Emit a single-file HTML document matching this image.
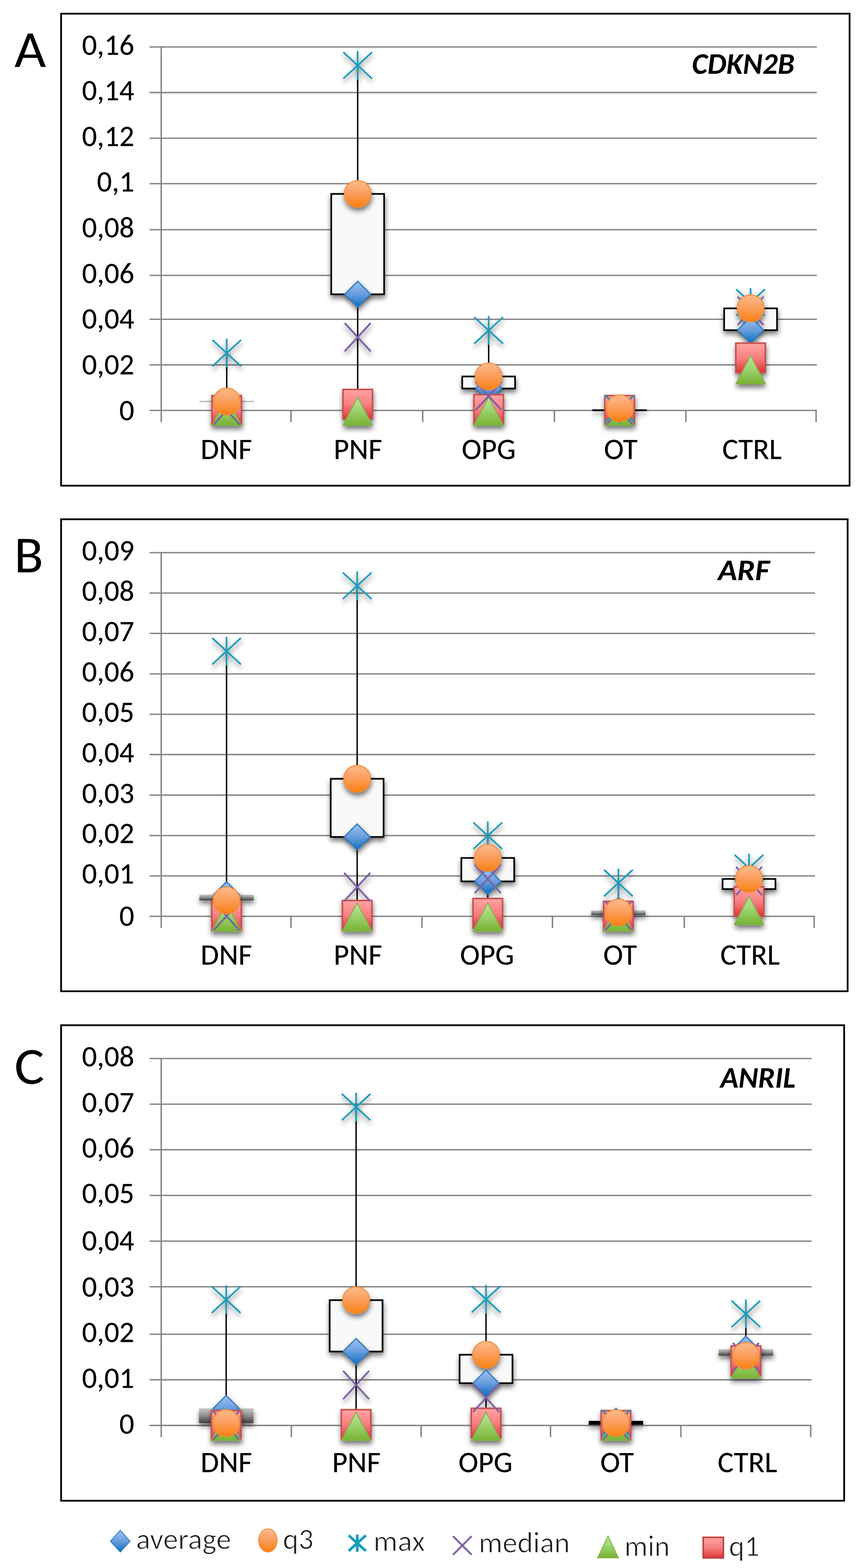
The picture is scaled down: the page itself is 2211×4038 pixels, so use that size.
<!DOCTYPE html>
<html><head><meta charset="utf-8"><title>Boxplots CDKN2B ARF ANRIL</title>
<style>html,body{margin:0;padding:0;background:#fff;}body{width:2211px;height:4038px;overflow:hidden;}svg{display:block;}text{font-family:Carlito, 'Liberation Sans', sans-serif;}text.lb{stroke:#000;stroke-width:0.25px;}text.lg{stroke:#fff;stroke-width:1.6px;}</style>
</head><body>
<svg width="2211" height="4038" viewBox="0 0 2211 4038">
<defs>
<linearGradient id="gDia" x1="0" y1="0" x2="0" y2="1"><stop offset="0" stop-color="#9CC3F7"/><stop offset="0.5" stop-color="#6A9DDD"/><stop offset="1" stop-color="#0B6EC0"/></linearGradient>
<linearGradient id="gCirc" x1="0" y1="0" x2="0" y2="1"><stop offset="0" stop-color="#FDBB8B"/><stop offset="0.45" stop-color="#FBA062"/><stop offset="1" stop-color="#F9800F"/></linearGradient>
<linearGradient id="gSq" x1="0" y1="0" x2="0" y2="1"><stop offset="0" stop-color="#FFA3A3"/><stop offset="0.5" stop-color="#F98080"/><stop offset="1" stop-color="#DB3535"/></linearGradient>
<linearGradient id="gTri" x1="0" y1="0" x2="0" y2="1"><stop offset="0" stop-color="#BDE79D"/><stop offset="0.5" stop-color="#9BD06A"/><stop offset="1" stop-color="#76B332"/></linearGradient>
<linearGradient id="gDown" x1="0" y1="0" x2="0" y2="1"><stop offset="0" stop-color="#C6C6C6"/><stop offset="0.5" stop-color="#8E8E8E"/><stop offset="1" stop-color="#3E3E3E"/></linearGradient>
<filter id="sh" x="-40%" y="-40%" width="180%" height="200%"><feGaussianBlur in="SourceAlpha" stdDeviation="7"/><feOffset dx="1" dy="8" result="b"/><feComponentTransfer><feFuncA type="linear" slope="0.55"/></feComponentTransfer><feMerge><feMergeNode/><feMergeNode in="SourceGraphic"/></feMerge></filter>
<filter id="shb" filterUnits="userSpaceOnUse" x="0" y="0" width="2211" height="4038"><feGaussianBlur in="SourceAlpha" stdDeviation="7"/><feOffset dx="1" dy="8" result="b"/><feComponentTransfer><feFuncA type="linear" slope="0.55"/></feComponentTransfer><feMerge><feMergeNode/><feMergeNode in="SourceGraphic"/></feMerge></filter>
</defs>
<rect x="0" y="0" width="2211" height="4038" fill="#fff"/>
<rect x="157.25" y="35.25" width="2029.5" height="1215.5" fill="none" stroke="#000" stroke-width="4.5"/>
<text transform="matrix(1.05 0 0 1 36.9 172)" font-size="134" textLength="77.54" lengthAdjust="spacingAndGlyphs" fill="#000">A</text>
<line x1="385" y1="1057" x2="2102.5" y2="1057" stroke="#868686" stroke-width="3.6"/>
<text class="lb" x="345.5" y="1081.5" font-size="76" text-anchor="end" textLength="38.53" lengthAdjust="spacingAndGlyphs" fill="#000">0</text>
<line x1="385" y1="939.6" x2="2102.5" y2="939.6" stroke="#868686" stroke-width="3.6"/>
<text class="lb" x="345.5" y="963.9" font-size="76" text-anchor="end" textLength="134.53" lengthAdjust="spacingAndGlyphs" fill="#000">0,02</text>
<line x1="385" y1="822.2" x2="2102.5" y2="822.2" stroke="#868686" stroke-width="3.6"/>
<text class="lb" x="345.5" y="846.4" font-size="76" text-anchor="end" textLength="134.53" lengthAdjust="spacingAndGlyphs" fill="#000">0,04</text>
<line x1="385" y1="709.3" x2="2102.5" y2="709.3" stroke="#868686" stroke-width="3.6"/>
<text class="lb" x="345.5" y="729" font-size="76" text-anchor="end" textLength="134.53" lengthAdjust="spacingAndGlyphs" fill="#000">0,06</text>
<line x1="385" y1="591.5" x2="2102.5" y2="591.5" stroke="#868686" stroke-width="3.6"/>
<text class="lb" x="345.5" y="611.2" font-size="76" text-anchor="end" textLength="134.53" lengthAdjust="spacingAndGlyphs" fill="#000">0,08</text>
<line x1="385" y1="473" x2="2102.5" y2="473" stroke="#868686" stroke-width="3.6"/>
<text class="lb" x="345.5" y="493.1" font-size="76" text-anchor="end" textLength="96.02" lengthAdjust="spacingAndGlyphs" fill="#000">0,1</text>
<line x1="385" y1="356" x2="2102.5" y2="356" stroke="#868686" stroke-width="3.6"/>
<text class="lb" x="345.5" y="376.1" font-size="76" text-anchor="end" textLength="134.53" lengthAdjust="spacingAndGlyphs" fill="#000">0,12</text>
<line x1="385" y1="238.4" x2="2102.5" y2="238.4" stroke="#868686" stroke-width="3.6"/>
<text class="lb" x="345.5" y="258.2" font-size="76" text-anchor="end" textLength="134.53" lengthAdjust="spacingAndGlyphs" fill="#000">0,14</text>
<line x1="385" y1="121" x2="2102.5" y2="121" stroke="#868686" stroke-width="3.6"/>
<text class="lb" x="345.5" y="140.8" font-size="76" text-anchor="end" textLength="134.53" lengthAdjust="spacingAndGlyphs" fill="#000">0,16</text>
<line x1="415" y1="119.2" x2="415" y2="1087" stroke="#868686" stroke-width="3.8"/>
<line x1="749" y1="1057" x2="749" y2="1087" stroke="#868686" stroke-width="3.8"/>
<line x1="1088" y1="1057" x2="1088" y2="1087" stroke="#868686" stroke-width="3.8"/>
<line x1="1427" y1="1057" x2="1427" y2="1087" stroke="#868686" stroke-width="3.8"/>
<line x1="1765.4" y1="1057" x2="1765.4" y2="1087" stroke="#868686" stroke-width="3.8"/>
<line x1="2100.6" y1="1057" x2="2100.6" y2="1087" stroke="#868686" stroke-width="3.8"/>
<text class="lb" x="582.6" y="1182" font-size="77" text-anchor="middle" textLength="132.47" lengthAdjust="spacingAndGlyphs" fill="#000">DNF</text>
<text class="lb" x="921.1" y="1182" font-size="77" text-anchor="middle" textLength="124.88" lengthAdjust="spacingAndGlyphs" fill="#000">PNF</text>
<text class="lb" x="1257.8" y="1182" font-size="77" text-anchor="middle" textLength="139.34" lengthAdjust="spacingAndGlyphs" fill="#000">OPG</text>
<text class="lb" x="1597.7" y="1182" font-size="77" text-anchor="middle" textLength="86.44" lengthAdjust="spacingAndGlyphs" fill="#000">OT</text>
<text class="lb" x="1935.6" y="1182" font-size="77" text-anchor="middle" textLength="153.14" lengthAdjust="spacingAndGlyphs" fill="#000">CTRL</text>
<text x="1781" y="190" font-size="77" font-weight="bold" font-style="italic" textLength="264" lengthAdjust="spacingAndGlyphs" fill="#000">CDKN2B</text>
<line x1="583.55" y1="909.33" x2="583.55" y2="1056.7" stroke="#000" stroke-width="3.6"/>
<rect x="513.55" y="1031.89" width="140" height="4" fill="#C4C4C4"/>
<g filter="url(#sh)">
<path d="M583.55 1000.98L617.05 1034.48L583.55 1067.98L550.05 1034.48Z" fill="url(#gDia)" stroke="#2C78BE" stroke-width="3"/>
<rect x="545.55" y="1018.7" width="76" height="76" fill="url(#gSq)" stroke="#C9504E" stroke-width="4"/>
<path d="M583.55 1022.7L621.55 1095.7L545.55 1095.7Z" fill="url(#gTri)" stroke="#86AF53" stroke-width="2.5" stroke-linejoin="round"/>
<path d="M550.05 1020.2L617.05 1093.2M617.05 1020.2L550.05 1093.2" stroke="#7E5EA6" stroke-width="4.5" fill="none"/>
<path d="M546.55 875.29L620.55 943.37M620.55 875.29L546.55 943.37M583.55 872.33L583.55 946.33" stroke="#189DBB" stroke-width="4.2" fill="none"/>
<circle cx="583.55" cy="1033.89" r="34.5" fill="url(#gCirc)" stroke="#F48B36" stroke-width="2.5"/>
</g>
<line x1="920.65" y1="168.39" x2="920.65" y2="1056.7" stroke="#000" stroke-width="3.6"/>
<rect x="852.65" y="499.39" width="136" height="258.48" fill="#F9F9F9" stroke="#000" stroke-width="4.2" filter="url(#shb)"/>
<g filter="url(#sh)">
<path d="M920.65 724.37L954.15 757.87L920.65 791.37L887.15 757.87Z" fill="url(#gDia)" stroke="#2C78BE" stroke-width="3"/>
<rect x="882.65" y="1002.91" width="76" height="76" fill="url(#gSq)" stroke="#C9504E" stroke-width="4"/>
<path d="M920.65 1022.7L958.65 1095.7L882.65 1095.7Z" fill="url(#gTri)" stroke="#86AF53" stroke-width="2.5" stroke-linejoin="round"/>
<path d="M887.15 831.89L954.15 904.89M954.15 831.89L887.15 904.89" stroke="#7E5EA6" stroke-width="4.5" fill="none"/>
<path d="M883.65 134.35L957.65 202.43M957.65 134.35L883.65 202.43M920.65 131.39L920.65 205.39" stroke="#189DBB" stroke-width="4.2" fill="none"/>
<circle cx="920.65" cy="499.39" r="34.5" fill="url(#gCirc)" stroke="#F48B36" stroke-width="2.5"/>
</g>
<line x1="1257.75" y1="850.85" x2="1257.75" y2="1056.7" stroke="#000" stroke-width="3.6"/>
<rect x="1189.75" y="969.56" width="136" height="30.99" fill="#F9F9F9" stroke="#000" stroke-width="4.2" filter="url(#shb)"/>
<g filter="url(#sh)">
<path d="M1257.75 967.06L1291.25 1000.56L1257.75 1034.06L1224.25 1000.56Z" fill="url(#gDia)" stroke="#2C78BE" stroke-width="3"/>
<rect x="1219.75" y="1016.36" width="76" height="76" fill="url(#gSq)" stroke="#C9504E" stroke-width="4"/>
<path d="M1257.75 1022.7L1295.75 1095.7L1219.75 1095.7Z" fill="url(#gTri)" stroke="#86AF53" stroke-width="2.5" stroke-linejoin="round"/>
<path d="M1224.25 983.36L1291.25 1056.36M1291.25 983.36L1224.25 1056.36" stroke="#7E5EA6" stroke-width="4.5" fill="none"/>
<path d="M1220.75 816.81L1294.75 884.89M1294.75 816.81L1220.75 884.89M1257.75 813.85L1257.75 887.85" stroke="#189DBB" stroke-width="4.2" fill="none"/>
<circle cx="1257.75" cy="969.56" r="34.5" fill="url(#gCirc)" stroke="#F48B36" stroke-width="2.5"/>
</g>
<line x1="1594.85" y1="1051.44" x2="1594.85" y2="1056.7" stroke="#000" stroke-width="3.6"/>
<rect x="1524.85" y="1054.2" width="140" height="4.5" fill="#000" filter="url(#shb)"/>
<g filter="url(#sh)">
<path d="M1594.85 1023.2L1628.35 1056.7L1594.85 1090.2L1561.35 1056.7Z" fill="url(#gDia)" stroke="#2C78BE" stroke-width="3"/>
<rect x="1556.85" y="1018.7" width="76" height="76" fill="url(#gSq)" stroke="#C9504E" stroke-width="4"/>
<path d="M1594.85 1022.7L1632.85 1095.7L1556.85 1095.7Z" fill="url(#gTri)" stroke="#86AF53" stroke-width="2.5" stroke-linejoin="round"/>
<path d="M1561.35 1020.2L1628.35 1093.2M1628.35 1020.2L1561.35 1093.2" stroke="#7E5EA6" stroke-width="4.5" fill="none"/>
<path d="M1557.85 1018.57L1631.85 1086.65M1631.85 1018.57L1557.85 1086.65M1594.85 1015.61L1594.85 1089.61" stroke="#189DBB" stroke-width="4.2" fill="none"/>
<circle cx="1594.85" cy="1051.44" r="34.5" fill="url(#gCirc)" stroke="#F48B36" stroke-width="2.5"/>
</g>
<line x1="1931.95" y1="778.92" x2="1931.95" y2="949.68" stroke="#000" stroke-width="3.6"/>
<rect x="1863.95" y="794.12" width="136" height="56.14" fill="#F9F9F9" stroke="#000" stroke-width="4.2" filter="url(#shb)"/>
<g filter="url(#sh)">
<path d="M1931.95 816.77L1965.45 850.27L1931.95 883.77L1898.45 850.27Z" fill="url(#gDia)" stroke="#2C78BE" stroke-width="3"/>
<rect x="1893.95" y="883.61" width="76" height="76" fill="url(#gSq)" stroke="#C9504E" stroke-width="4"/>
<path d="M1931.95 915.68L1969.95 988.68L1893.95 988.68Z" fill="url(#gTri)" stroke="#86AF53" stroke-width="2.5" stroke-linejoin="round"/>
<path d="M1898.45 764.06L1965.45 837.06M1965.45 764.06L1898.45 837.06" stroke="#7E5EA6" stroke-width="4.5" fill="none"/>
<path d="M1894.95 744.88L1968.95 812.96M1968.95 744.88L1894.95 812.96M1931.95 741.92L1931.95 815.92" stroke="#189DBB" stroke-width="4.2" fill="none"/>
<circle cx="1931.95" cy="794.12" r="34.5" fill="url(#gCirc)" stroke="#F48B36" stroke-width="2.5"/>
</g>
<rect x="157.25" y="1337.25" width="2024.5" height="1215.5" fill="none" stroke="#000" stroke-width="4.5"/>
<text transform="matrix(1.03 0 0 1 36.6 1474)" font-size="134" textLength="72.9" lengthAdjust="spacingAndGlyphs" fill="#000">B</text>
<line x1="385" y1="2359.8" x2="2098" y2="2359.8" stroke="#868686" stroke-width="3.6"/>
<text class="lb" x="345.5" y="2384.2" font-size="76" text-anchor="end" textLength="38.53" lengthAdjust="spacingAndGlyphs" fill="#000">0</text>
<line x1="385" y1="2255.7" x2="2098" y2="2255.7" stroke="#868686" stroke-width="3.6"/>
<text class="lb" x="345.5" y="2275.3" font-size="76" text-anchor="end" textLength="134.53" lengthAdjust="spacingAndGlyphs" fill="#000">0,01</text>
<line x1="385" y1="2151.7" x2="2098" y2="2151.7" stroke="#868686" stroke-width="3.6"/>
<text class="lb" x="345.5" y="2171.4" font-size="76" text-anchor="end" textLength="134.53" lengthAdjust="spacingAndGlyphs" fill="#000">0,02</text>
<line x1="385" y1="2047.6" x2="2098" y2="2047.6" stroke="#868686" stroke-width="3.6"/>
<text class="lb" x="345.5" y="2067.5" font-size="76" text-anchor="end" textLength="134.53" lengthAdjust="spacingAndGlyphs" fill="#000">0,03</text>
<line x1="385" y1="1943.1" x2="2098" y2="1943.1" stroke="#868686" stroke-width="3.6"/>
<text class="lb" x="345.5" y="1963.1" font-size="76" text-anchor="end" textLength="134.53" lengthAdjust="spacingAndGlyphs" fill="#000">0,04</text>
<line x1="385" y1="1839.5" x2="2098" y2="1839.5" stroke="#868686" stroke-width="3.6"/>
<text class="lb" x="345.5" y="1859.1" font-size="76" text-anchor="end" textLength="134.53" lengthAdjust="spacingAndGlyphs" fill="#000">0,05</text>
<line x1="385" y1="1735.5" x2="2098" y2="1735.5" stroke="#868686" stroke-width="3.6"/>
<text class="lb" x="345.5" y="1755.1" font-size="76" text-anchor="end" textLength="134.53" lengthAdjust="spacingAndGlyphs" fill="#000">0,06</text>
<line x1="385" y1="1631.2" x2="2098" y2="1631.2" stroke="#868686" stroke-width="3.6"/>
<text class="lb" x="345.5" y="1651.1" font-size="76" text-anchor="end" textLength="134.53" lengthAdjust="spacingAndGlyphs" fill="#000">0,07</text>
<line x1="385" y1="1527.2" x2="2098" y2="1527.2" stroke="#868686" stroke-width="3.6"/>
<text class="lb" x="345.5" y="1547.2" font-size="76" text-anchor="end" textLength="134.53" lengthAdjust="spacingAndGlyphs" fill="#000">0,08</text>
<line x1="385" y1="1423.3" x2="2098" y2="1423.3" stroke="#868686" stroke-width="3.6"/>
<text class="lb" x="345.5" y="1443.2" font-size="76" text-anchor="end" textLength="134.53" lengthAdjust="spacingAndGlyphs" fill="#000">0,09</text>
<line x1="415" y1="1421.5" x2="415" y2="2389.8" stroke="#868686" stroke-width="3.8"/>
<line x1="749" y1="2359.8" x2="749" y2="2389.8" stroke="#868686" stroke-width="3.8"/>
<line x1="1086" y1="2359.8" x2="1086" y2="2389.8" stroke="#868686" stroke-width="3.8"/>
<line x1="1422" y1="2359.8" x2="1422" y2="2389.8" stroke="#868686" stroke-width="3.8"/>
<line x1="1761.3" y1="2359.8" x2="1761.3" y2="2389.8" stroke="#868686" stroke-width="3.8"/>
<line x1="2095.5" y1="2359.8" x2="2095.5" y2="2389.8" stroke="#868686" stroke-width="3.8"/>
<text class="lb" x="582.6" y="2484" font-size="77" text-anchor="middle" textLength="132.47" lengthAdjust="spacingAndGlyphs" fill="#000">DNF</text>
<text class="lb" x="921.1" y="2484" font-size="77" text-anchor="middle" textLength="124.88" lengthAdjust="spacingAndGlyphs" fill="#000">PNF</text>
<text class="lb" x="1253.7" y="2484" font-size="77" text-anchor="middle" textLength="139.34" lengthAdjust="spacingAndGlyphs" fill="#000">OPG</text>
<text class="lb" x="1596" y="2484" font-size="77" text-anchor="middle" textLength="86.44" lengthAdjust="spacingAndGlyphs" fill="#000">OT</text>
<text class="lb" x="1930.6" y="2484" font-size="77" text-anchor="middle" textLength="153.14" lengthAdjust="spacingAndGlyphs" fill="#000">CTRL</text>
<text x="1848" y="1494" font-size="77" font-weight="bold" font-style="italic" textLength="133" lengthAdjust="spacingAndGlyphs" fill="#000">ARF</text>
<line x1="583.1" y1="1676.96" x2="583.1" y2="2359.2" stroke="#000" stroke-width="3.6"/>
<rect x="513.1" y="2304.08" width="140" height="14.56" fill="url(#gDown)" filter="url(#shb)"/>
<g filter="url(#sh)">
<path d="M583.1 2270.58L616.6 2304.08L583.1 2337.58L549.6 2304.08Z" fill="url(#gDia)" stroke="#2C78BE" stroke-width="3"/>
<rect x="545.1" y="2321.2" width="76" height="76" fill="url(#gSq)" stroke="#C9504E" stroke-width="4"/>
<path d="M583.1 2325.2L621.1 2398.2L545.1 2398.2Z" fill="url(#gTri)" stroke="#86AF53" stroke-width="2.5" stroke-linejoin="round"/>
<path d="M549.6 2322.7L616.6 2395.7M616.6 2322.7L549.6 2395.7" stroke="#7E5EA6" stroke-width="4.5" fill="none"/>
<path d="M546.1 1642.92L620.1 1711M620.1 1642.92L546.1 1711M583.1 1639.96L583.1 1713.96" stroke="#189DBB" stroke-width="4.2" fill="none"/>
<circle cx="583.1" cy="2318.64" r="34.5" fill="url(#gCirc)" stroke="#F48B36" stroke-width="2.5"/>
</g>
<line x1="919.3" y1="1508.48" x2="919.3" y2="2359.2" stroke="#000" stroke-width="3.6"/>
<rect x="851.3" y="2005.6" width="136" height="149.76" fill="#F9F9F9" stroke="#000" stroke-width="4.2" filter="url(#shb)"/>
<g filter="url(#sh)">
<path d="M919.3 2121.86L952.8 2155.36L919.3 2188.86L885.8 2155.36Z" fill="url(#gDia)" stroke="#2C78BE" stroke-width="3"/>
<rect x="881.3" y="2319.12" width="76" height="76" fill="url(#gSq)" stroke="#C9504E" stroke-width="4"/>
<path d="M919.3 2325.2L957.3 2398.2L881.3 2398.2Z" fill="url(#gTri)" stroke="#86AF53" stroke-width="2.5" stroke-linejoin="round"/>
<path d="M885.8 2247.82L952.8 2320.82M952.8 2247.82L885.8 2320.82" stroke="#7E5EA6" stroke-width="4.5" fill="none"/>
<path d="M882.3 1474.44L956.3 1542.52M956.3 1474.44L882.3 1542.52M919.3 1471.48L919.3 1545.48" stroke="#189DBB" stroke-width="4.2" fill="none"/>
<circle cx="919.3" cy="2005.6" r="34.5" fill="url(#gCirc)" stroke="#F48B36" stroke-width="2.5"/>
</g>
<line x1="1255.5" y1="2152.24" x2="1255.5" y2="2359.2" stroke="#000" stroke-width="3.6"/>
<rect x="1187.5" y="2209.44" width="136" height="60.32" fill="#F9F9F9" stroke="#000" stroke-width="4.2" filter="url(#shb)"/>
<g filter="url(#sh)">
<path d="M1255.5 2236.26L1289 2269.76L1255.5 2303.26L1222 2269.76Z" fill="url(#gDia)" stroke="#2C78BE" stroke-width="3"/>
<rect x="1217.5" y="2313.92" width="76" height="76" fill="url(#gSq)" stroke="#C9504E" stroke-width="4"/>
<path d="M1255.5 2325.2L1293.5 2398.2L1217.5 2398.2Z" fill="url(#gTri)" stroke="#86AF53" stroke-width="2.5" stroke-linejoin="round"/>
<path d="M1222 2227.02L1289 2300.02M1289 2227.02L1222 2300.02" stroke="#7E5EA6" stroke-width="4.5" fill="none"/>
<path d="M1218.5 2118.2L1292.5 2186.28M1292.5 2118.2L1218.5 2186.28M1255.5 2115.24L1255.5 2189.24" stroke="#189DBB" stroke-width="4.2" fill="none"/>
<circle cx="1255.5" cy="2209.44" r="34.5" fill="url(#gCirc)" stroke="#F48B36" stroke-width="2.5"/>
</g>
<line x1="1591.7" y1="2273.92" x2="1591.7" y2="2359.2" stroke="#000" stroke-width="3.6"/>
<rect x="1521.7" y="2344.64" width="140" height="12" fill="url(#gDown)" filter="url(#shb)"/>
<g filter="url(#sh)">
<path d="M1591.7 2311.14L1625.2 2344.64L1591.7 2378.14L1558.2 2344.64Z" fill="url(#gDia)" stroke="#2C78BE" stroke-width="3"/>
<rect x="1553.7" y="2321.2" width="76" height="76" fill="url(#gSq)" stroke="#C9504E" stroke-width="4"/>
<path d="M1591.7 2325.2L1629.7 2398.2L1553.7 2398.2Z" fill="url(#gTri)" stroke="#86AF53" stroke-width="2.5" stroke-linejoin="round"/>
<path d="M1558.2 2321.66L1625.2 2394.66M1625.2 2321.66L1558.2 2394.66" stroke="#7E5EA6" stroke-width="4.5" fill="none"/>
<path d="M1554.7 2239.88L1628.7 2307.96M1628.7 2239.88L1554.7 2307.96M1591.7 2236.92L1591.7 2310.92" stroke="#189DBB" stroke-width="4.2" fill="none"/>
<circle cx="1591.7" cy="2349.84" r="34.5" fill="url(#gCirc)" stroke="#F48B36" stroke-width="2.5"/>
</g>
<line x1="1927.9" y1="2235.44" x2="1927.9" y2="2342.56" stroke="#000" stroke-width="3.6"/>
<rect x="1859.9" y="2263.52" width="136" height="26" fill="#F9F9F9" stroke="#000" stroke-width="4.2" filter="url(#shb)"/>
<g filter="url(#sh)">
<path d="M1927.9 2256.02L1961.4 2289.52L1927.9 2323.02L1894.4 2289.52Z" fill="url(#gDia)" stroke="#2C78BE" stroke-width="3"/>
<rect x="1889.9" y="2283.76" width="76" height="76" fill="url(#gSq)" stroke="#C9504E" stroke-width="4"/>
<path d="M1927.9 2308.56L1965.9 2381.56L1889.9 2381.56Z" fill="url(#gTri)" stroke="#86AF53" stroke-width="2.5" stroke-linejoin="round"/>
<path d="M1894.4 2232.22L1961.4 2305.22M1961.4 2232.22L1894.4 2305.22" stroke="#7E5EA6" stroke-width="4.5" fill="none"/>
<path d="M1890.9 2201.4L1964.9 2269.48M1964.9 2201.4L1890.9 2269.48M1927.9 2198.44L1927.9 2272.44" stroke="#189DBB" stroke-width="4.2" fill="none"/>
<circle cx="1927.9" cy="2263.52" r="34.5" fill="url(#gCirc)" stroke="#F48B36" stroke-width="2.5"/>
</g>
<rect x="157.25" y="2640.25" width="2015.5" height="1224.5" fill="none" stroke="#000" stroke-width="4.5"/>
<text transform="matrix(1.08 0 0 1 37.1 2791)" font-size="134" textLength="71.45" lengthAdjust="spacingAndGlyphs" fill="#000">C</text>
<line x1="385" y1="3670.9" x2="2089" y2="3670.9" stroke="#868686" stroke-width="3.6"/>
<text class="lb" x="345.5" y="3691.5" font-size="76" text-anchor="end" textLength="38.53" lengthAdjust="spacingAndGlyphs" fill="#000">0</text>
<line x1="385" y1="3553.4" x2="2089" y2="3553.4" stroke="#868686" stroke-width="3.6"/>
<text class="lb" x="345.5" y="3573.5" font-size="76" text-anchor="end" textLength="134.53" lengthAdjust="spacingAndGlyphs" fill="#000">0,01</text>
<line x1="385" y1="3436" x2="2089" y2="3436" stroke="#868686" stroke-width="3.6"/>
<text class="lb" x="345.5" y="3456.1" font-size="76" text-anchor="end" textLength="134.53" lengthAdjust="spacingAndGlyphs" fill="#000">0,02</text>
<line x1="385" y1="3313.8" x2="2089" y2="3313.8" stroke="#868686" stroke-width="3.6"/>
<text class="lb" x="345.5" y="3338.6" font-size="76" text-anchor="end" textLength="134.53" lengthAdjust="spacingAndGlyphs" fill="#000">0,03</text>
<line x1="385" y1="3196.3" x2="2089" y2="3196.3" stroke="#868686" stroke-width="3.6"/>
<text class="lb" x="345.5" y="3220.3" font-size="76" text-anchor="end" textLength="134.53" lengthAdjust="spacingAndGlyphs" fill="#000">0,04</text>
<line x1="385" y1="3078.5" x2="2089" y2="3078.5" stroke="#868686" stroke-width="3.6"/>
<text class="lb" x="345.5" y="3098.3" font-size="76" text-anchor="end" textLength="134.53" lengthAdjust="spacingAndGlyphs" fill="#000">0,05</text>
<line x1="385" y1="2960.9" x2="2089" y2="2960.9" stroke="#868686" stroke-width="3.6"/>
<text class="lb" x="345.5" y="2980.8" font-size="76" text-anchor="end" textLength="134.53" lengthAdjust="spacingAndGlyphs" fill="#000">0,06</text>
<line x1="385" y1="2843.5" x2="2089" y2="2843.5" stroke="#868686" stroke-width="3.6"/>
<text class="lb" x="345.5" y="2863.5" font-size="76" text-anchor="end" textLength="134.53" lengthAdjust="spacingAndGlyphs" fill="#000">0,07</text>
<line x1="385" y1="2726" x2="2089" y2="2726" stroke="#868686" stroke-width="3.6"/>
<text class="lb" x="345.5" y="2745.9" font-size="76" text-anchor="end" textLength="134.53" lengthAdjust="spacingAndGlyphs" fill="#000">0,08</text>
<line x1="415" y1="2724.2" x2="415" y2="3700.9" stroke="#868686" stroke-width="3.8"/>
<line x1="750" y1="3670.9" x2="750" y2="3700.9" stroke="#868686" stroke-width="3.8"/>
<line x1="1084" y1="3670.9" x2="1084" y2="3700.9" stroke="#868686" stroke-width="3.8"/>
<line x1="1417" y1="3670.9" x2="1417" y2="3700.9" stroke="#868686" stroke-width="3.8"/>
<line x1="1752.6" y1="3670.9" x2="1752.6" y2="3700.9" stroke="#868686" stroke-width="3.8"/>
<line x1="2086.7" y1="3670.9" x2="2086.7" y2="3700.9" stroke="#868686" stroke-width="3.8"/>
<text class="lb" x="582.6" y="3791" font-size="77" text-anchor="middle" textLength="132.47" lengthAdjust="spacingAndGlyphs" fill="#000">DNF</text>
<text class="lb" x="917.2" y="3791" font-size="77" text-anchor="middle" textLength="124.88" lengthAdjust="spacingAndGlyphs" fill="#000">PNF</text>
<text class="lb" x="1249.7" y="3791" font-size="77" text-anchor="middle" textLength="139.34" lengthAdjust="spacingAndGlyphs" fill="#000">OPG</text>
<text class="lb" x="1588.3" y="3791" font-size="77" text-anchor="middle" textLength="86.44" lengthAdjust="spacingAndGlyphs" fill="#000">OT</text>
<text class="lb" x="1923.8" y="3791" font-size="77" text-anchor="middle" textLength="153.14" lengthAdjust="spacingAndGlyphs" fill="#000">CTRL</text>
<text x="1854" y="2801" font-size="77" font-weight="bold" font-style="italic" textLength="194" lengthAdjust="spacingAndGlyphs" fill="#000">ANRIL</text>
<line x1="582.2" y1="3347.05" x2="582.2" y2="3670.7" stroke="#000" stroke-width="3.6"/>
<rect x="512.2" y="3627" width="140" height="37.8" fill="url(#gDown)" filter="url(#shb)"/>
<g filter="url(#sh)">
<path d="M582.2 3593.5L615.7 3627L582.2 3660.5L548.7 3627Z" fill="url(#gDia)" stroke="#2C78BE" stroke-width="3"/>
<rect x="544.2" y="3632.7" width="76" height="76" fill="url(#gSq)" stroke="#C9504E" stroke-width="4"/>
<path d="M582.2 3636.7L620.2 3709.7L544.2 3709.7Z" fill="url(#gTri)" stroke="#86AF53" stroke-width="2.5" stroke-linejoin="round"/>
<path d="M548.7 3634.2L615.7 3707.2M615.7 3634.2L548.7 3707.2" stroke="#7E5EA6" stroke-width="4.5" fill="none"/>
<path d="M545.2 3313.01L619.2 3381.09M619.2 3313.01L545.2 3381.09M582.2 3310.05L582.2 3384.05" stroke="#189DBB" stroke-width="4.2" fill="none"/>
<circle cx="582.2" cy="3664.79" r="34.5" fill="url(#gCirc)" stroke="#F48B36" stroke-width="2.5"/>
</g>
<line x1="916.6" y1="2850.95" x2="916.6" y2="3670.7" stroke="#000" stroke-width="3.6"/>
<rect x="848.6" y="3348.23" width="136" height="132.29" fill="#F9F9F9" stroke="#000" stroke-width="4.2" filter="url(#shb)"/>
<g filter="url(#sh)">
<path d="M916.6 3447.03L950.1 3480.53L916.6 3514.03L883.1 3480.53Z" fill="url(#gDia)" stroke="#2C78BE" stroke-width="3"/>
<rect x="878.6" y="3630.34" width="76" height="76" fill="url(#gSq)" stroke="#C9504E" stroke-width="4"/>
<path d="M916.6 3636.7L954.6 3709.7L878.6 3709.7Z" fill="url(#gTri)" stroke="#86AF53" stroke-width="2.5" stroke-linejoin="round"/>
<path d="M883.1 3530.25L950.1 3603.25M950.1 3530.25L883.1 3603.25" stroke="#7E5EA6" stroke-width="4.5" fill="none"/>
<path d="M879.6 2816.91L953.6 2884.99M953.6 2816.91L879.6 2884.99M916.6 2813.95L916.6 2887.95" stroke="#189DBB" stroke-width="4.2" fill="none"/>
<circle cx="916.6" cy="3348.23" r="34.5" fill="url(#gCirc)" stroke="#F48B36" stroke-width="2.5"/>
</g>
<line x1="1251" y1="3345.87" x2="1251" y2="3670.7" stroke="#000" stroke-width="3.6"/>
<rect x="1183" y="3488.8" width="136" height="73.23" fill="#F9F9F9" stroke="#000" stroke-width="4.2" filter="url(#shb)"/>
<g filter="url(#sh)">
<path d="M1251 3528.53L1284.5 3562.03L1251 3595.53L1217.5 3562.03Z" fill="url(#gDia)" stroke="#2C78BE" stroke-width="3"/>
<rect x="1213" y="3626.79" width="76" height="76" fill="url(#gSq)" stroke="#C9504E" stroke-width="4"/>
<path d="M1251 3636.7L1289 3709.7L1213 3709.7Z" fill="url(#gTri)" stroke="#86AF53" stroke-width="2.5" stroke-linejoin="round"/>
<path d="M1217.5 3563.33L1284.5 3636.33M1284.5 3563.33L1217.5 3636.33" stroke="#7E5EA6" stroke-width="4.5" fill="none"/>
<path d="M1214 3311.83L1288 3379.91M1288 3311.83L1214 3379.91M1251 3308.87L1251 3382.87" stroke="#189DBB" stroke-width="4.2" fill="none"/>
<circle cx="1251" cy="3488.8" r="34.5" fill="url(#gCirc)" stroke="#F48B36" stroke-width="2.5"/>
</g>
<line x1="1585.4" y1="3660.07" x2="1585.4" y2="3670.7" stroke="#000" stroke-width="3.6"/>
<rect x="1515.4" y="3659.07" width="140" height="10" fill="#000" filter="url(#shb)"/>
<g filter="url(#sh)">
<path d="M1585.4 3626.57L1618.9 3660.07L1585.4 3693.57L1551.9 3660.07Z" fill="url(#gDia)" stroke="#2C78BE" stroke-width="3"/>
<rect x="1547.4" y="3632.7" width="76" height="76" fill="url(#gSq)" stroke="#C9504E" stroke-width="4"/>
<path d="M1585.4 3636.7L1623.4 3709.7L1547.4 3709.7Z" fill="url(#gTri)" stroke="#86AF53" stroke-width="2.5" stroke-linejoin="round"/>
<path d="M1551.9 3634.2L1618.9 3707.2M1618.9 3634.2L1551.9 3707.2" stroke="#7E5EA6" stroke-width="4.5" fill="none"/>
<path d="M1548.4 3630.75L1622.4 3698.83M1622.4 3630.75L1548.4 3698.83M1585.4 3627.79L1585.4 3701.79" stroke="#189DBB" stroke-width="4.2" fill="none"/>
<circle cx="1585.4" cy="3664.79" r="34.5" fill="url(#gCirc)" stroke="#F48B36" stroke-width="2.5"/>
</g>
<line x1="1919.8" y1="3383.67" x2="1919.8" y2="3510.06" stroke="#000" stroke-width="3.6"/>
<rect x="1849.8" y="3474.62" width="140" height="16.54" fill="url(#gDown)" filter="url(#shb)"/>
<g filter="url(#sh)">
<path d="M1919.8 3441.12L1953.3 3474.62L1919.8 3508.12L1886.3 3474.62Z" fill="url(#gDia)" stroke="#2C78BE" stroke-width="3"/>
<rect x="1881.8" y="3466.15" width="76" height="76" fill="url(#gSq)" stroke="#C9504E" stroke-width="4"/>
<path d="M1919.8 3476.06L1957.8 3549.06L1881.8 3549.06Z" fill="url(#gTri)" stroke="#86AF53" stroke-width="2.5" stroke-linejoin="round"/>
<path d="M1886.3 3458.2L1953.3 3531.2M1953.3 3458.2L1886.3 3531.2" stroke="#7E5EA6" stroke-width="4.5" fill="none"/>
<path d="M1882.8 3349.63L1956.8 3417.71M1956.8 3349.63L1882.8 3417.71M1919.8 3346.67L1919.8 3420.67" stroke="#189DBB" stroke-width="4.2" fill="none"/>
<circle cx="1919.8" cy="3491.16" r="34.5" fill="url(#gCirc)" stroke="#F48B36" stroke-width="2.5"/>
</g>
<path d="M309.5 3941L335 3969L309.5 3997L284 3969Z" fill="url(#gDia)" stroke="#2C78BE" stroke-width="2"/>
<text class="lg" x="350" y="3989" font-size="76" textLength="245" lengthAdjust="spacingAndGlyphs" fill="#1e1e1e">average</text>
<ellipse cx="689.6" cy="3967" rx="24" ry="30" fill="url(#gCirc)" stroke="#F48B36" stroke-width="2"/>
<text class="lg" x="728" y="3989" font-size="76" textLength="79" lengthAdjust="spacingAndGlyphs" fill="#1e1e1e">q3</text>
<path d="M897.5 3954L941.5 3994M941.5 3954L897.5 3994M919.5 3952L919.5 3996" stroke="#169DBB" stroke-width="7" fill="none"/>
<text class="lg" x="961" y="3994" font-size="76" textLength="133" lengthAdjust="spacingAndGlyphs" fill="#1e1e1e">max</text>
<path d="M1166 3956L1214 4004M1214 3956L1166 4004" stroke="#8064A2" stroke-width="5" fill="none"/>
<text class="lg" x="1232" y="3997.5" font-size="76" textLength="235" lengthAdjust="spacingAndGlyphs" fill="#1e1e1e">median</text>
<path d="M1565 3955L1592 4012L1538 4012Z" fill="url(#gTri)" stroke="#7FAE48" stroke-width="2"/>
<text class="lg" x="1607" y="4007" font-size="76" textLength="117" lengthAdjust="spacingAndGlyphs" fill="#1e1e1e">min</text>
<rect x="1810" y="3959" width="52" height="53" fill="url(#gSq)" stroke="#C3403E" stroke-width="4"/>
<text class="lg" x="1876" y="4007" font-size="76" textLength="79" lengthAdjust="spacingAndGlyphs" fill="#1e1e1e">q1</text>
</svg>
</body></html>
